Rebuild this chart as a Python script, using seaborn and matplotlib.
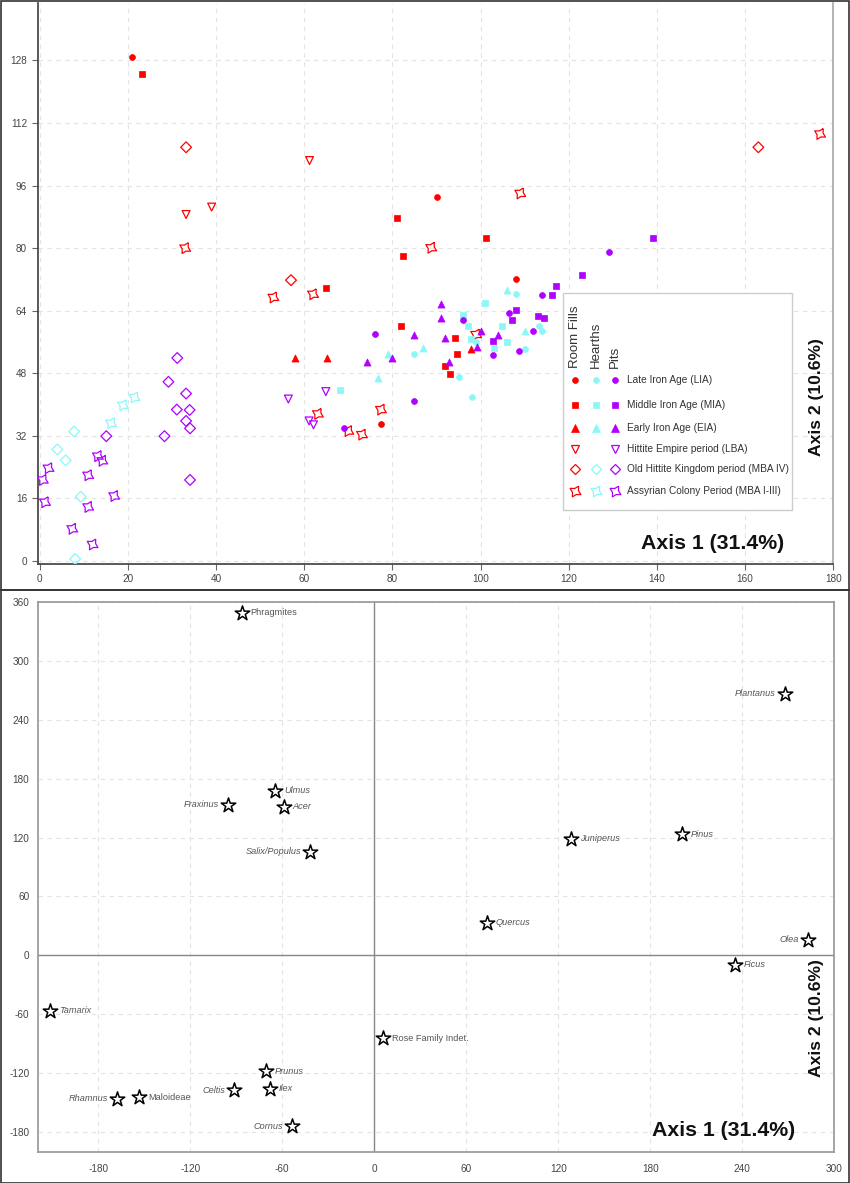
import numpy as np
import pandas as pd
import matplotlib
matplotlib.use("Agg")
import matplotlib.pyplot as plt
import seaborn as sns
from matplotlib.patches import Rectangle
from matplotlib.lines import Line2D

# ---------------- data : top panel (samples) ----------------
# Room Fills (red)
rf_lia_x = [21.0, 90.1, 108.1, 77.4]
rf_lia_y = [128.8, 93.1, 72.0, 35.0]
rf_mia_x = [23.1, 81.0, 82.3, 65.0, 101.2, 81.9, 94.1, 94.7, 91.9, 93.0]
rf_mia_y = [124.6, 87.7, 78.0, 69.8, 82.6, 60.0, 57.0, 53.0, 49.9, 47.9]
rf_eia_x = [57.8, 65.1, 97.8]
rf_eia_y = [51.9, 51.9, 54.1]
rf_lba_x = [61.2, 33.2, 39.0]
rf_lba_y = [102.4, 88.6, 90.5]
rf_mba4_x = [33.2, 57.0, 163.0]
rf_mba4_y = [105.8, 71.8, 105.8]
rf_mba13_x = [33.0, 53.0, 62.0, 88.8, 109.0, 177.0, 99.0, 77.4, 63.1, 70.0, 73.1]
rf_mba13_y = [80.0, 67.4, 68.2, 80.1, 94.0, 109.2, 57.9, 38.7, 37.6, 33.2, 32.3]
# Hearths (cyan)
he_lia_x = [108.0, 85.0, 95.0, 98.1, 99.0, 110.1, 113.2, 114.0]
he_lia_y = [68.2, 53.0, 47.0, 41.8, 56.1, 54.2, 60.0, 58.8]
he_mia_x = [68.1, 96.1, 97.2, 97.8, 101.1, 104.9, 103.1, 106.1]
he_mia_y = [43.8, 63.0, 60.0, 56.7, 66.0, 60.0, 54.5, 56.1]
he_eia_x = [76.7, 78.9, 87.0, 105.9, 110.0]
he_eia_y = [46.8, 52.9, 54.5, 69.2, 58.8]
he_mba4_x = [7.8, 4.0, 5.9, 9.3, 8.05]
he_mba4_y = [33.1, 28.5, 25.7, 16.4, 0.5]
he_mba13_x = [21.5, 18.9, 16.2]
he_mba13_y = [41.8, 39.8, 35.2]
# Pits (purple)
pi_lia_x = [129.1, 113.9, 76.1, 85.0, 96.0, 102.9, 106.5, 108.8, 111.8, 69.0]
pi_lia_y = [78.9, 68.0, 58.1, 41.0, 61.5, 52.6, 63.3, 53.8, 58.8, 34.0]
pi_mia_x = [139.2, 123.1, 117.0, 116.1, 108.0, 113.1, 114.4, 107.1, 102.9]
pi_mia_y = [82.7, 73.1, 70.2, 68.0, 64.1, 62.6, 62.1, 61.6, 56.2]
pi_eia_x = [91.1, 91.1, 85.0, 91.9, 74.2, 80.0, 92.9, 99.1, 100.1, 103.9]
pi_eia_y = [65.8, 62.2, 57.8, 57.0, 50.9, 52.0, 50.9, 54.7, 58.8, 57.9]
pi_lba_x = [56.4, 64.9, 61.1, 62.1]
pi_lba_y = [41.4, 43.3, 35.8, 34.8]
pi_mba4_x = [31.2, 29.2, 33.2, 31.1, 34.0, 33.2, 34.1, 28.3, 15.1, 34.1]
pi_mba4_y = [51.9, 45.8, 42.8, 38.7, 38.6, 35.8, 33.9, 31.9, 31.9, 20.7]
pi_mba13_x = [2.0, 0.7, 1.2, 13.2, 14.2, 11.0, 16.9, 11.0, 7.4, 12.0]
pi_mba13_y = [23.7, 20.7, 15.0, 26.8, 25.6, 21.9, 16.6, 13.8, 8.2, 4.2]

contexts = ["Room Fills", "Hearths", "Pits"]
periods = ["Late Iron Age (LIA)", "Middle Iron Age (MIA)", "Early Iron Age (EIA)",
           "Hittite Empire period (LBA)", "Old Hittite Kingdom period (MBA IV)",
           "Assyrian Colony Period (MBA I-III)"]
period_keys = ["lia", "mia", "eia", "lba", "mba4", "mba13"]
axis1_label = "Axis 1 (31.4%)"
axis2_label = "Axis 2 (10.6%)"

# ---------------- data : bottom panel (taxa) ----------------
taxa = ["Phragmites", "Ulmus", "Fraxinus", "Acer", "Salix/Populus", "Tamarix",
        "Rose Family Indet.", "Prunus", "Ilex", "Celtis", "Rhamnus", "Maloideae",
        "Cornus", "Plantanus", "Juniperus", "Pinus", "Quercus", "Olea", "Ficus"]
taxa_x = [-86.5, -64.6, -95.2, -59.1, -41.7, -211.5, 5.5, -70.6, -68.2, -91.3,
          -167.8, -153.4, -53.5, 267.8, 128.3, 200.8, 73.3, 283.0, 235.2]
taxa_y = [348.8, 167.8, 153.5, 151.2, 105.3, -56.5, -84.7, -118.3, -136.0, -137.7,
          -146.2, -144.9, -174.4, 266.4, 118.6, 123.2, 32.9, 15.9, -9.6]
taxa_italic = [False, True, True, True, True, True, False, True, True, True,
               True, False, True, True, True, True, True, True, True]
taxa_side = ["r", "r", "l", "r", "l", "r", "r", "r", "r", "l",
             "l", "r", "l", "l", "r", "r", "r", "l", "r"]

# ---------------- style ----------------
BASE = "Liberation Sans"
sns.set_theme(style="white")
plt.rcParams["font.family"] = [BASE, "DejaVu Sans"]
plt.rcParams["axes.unicode_minus"] = False

RED = "#FF0000"
CYAN = "#8CF7F7"
PURPLE = "#B000FF"
ctx_colors = {"Room Fills": RED, "Hearths": CYAN, "Pits": PURPLE}

# 4-point concave star (slightly rotated)
_ang_o = np.deg2rad(np.array([60, 150, 240, 330]))
_ang_i = _ang_o + np.deg2rad(45)
star4 = []
for ao, ai in zip(_ang_o, _ang_i):
    star4.append((np.cos(ao), np.sin(ao)))
    star4.append((0.5 * np.cos(ai), 0.5 * np.sin(ai)))
star4.append(star4[0])

markers = {"lia": ("o", True, 18), "mia": ("s", True, 17), "eia": ("^", True, 26),
           "lba": ("v", False, 32), "mba4": ("D", False, 30), "mba13": (star4, False, 60)}

W, H = 850, 1183
fig = plt.figure(figsize=(W / 100, H / 100), dpi=100)

def fax(left, top, right, bottom):
    return fig.add_axes([left / W, 1 - bottom / H, (right - left) / W, (bottom - top) / H])

GRID = dict(color="#e3e3e3", linestyle=(0, (4, 4)), linewidth=0.8)

# ======== top panel ========
ax1 = fax(37.5, 3, 833.3, 564)
data = {
    "Room Fills": dict(lia=(rf_lia_x, rf_lia_y), mia=(rf_mia_x, rf_mia_y), eia=(rf_eia_x, rf_eia_y),
                       lba=(rf_lba_x, rf_lba_y), mba4=(rf_mba4_x, rf_mba4_y), mba13=(rf_mba13_x, rf_mba13_y)),
    "Hearths": dict(lia=(he_lia_x, he_lia_y), mia=(he_mia_x, he_mia_y), eia=(he_eia_x, he_eia_y),
                    mba4=(he_mba4_x, he_mba4_y), mba13=(he_mba13_x, he_mba13_y)),
    "Pits": dict(lia=(pi_lia_x, pi_lia_y), mia=(pi_mia_x, pi_mia_y), eia=(pi_eia_x, pi_eia_y),
                 lba=(pi_lba_x, pi_lba_y), mba4=(pi_mba4_x, pi_mba4_y), mba13=(pi_mba13_x, pi_mba13_y)),
}
for ctx in contexts:
    c = ctx_colors[ctx]
    for key in period_keys:
        if key not in data[ctx]:
            continue
        xs, ys = data[ctx][key]
        m, filled, s = markers[key]
        if filled:
            sns.scatterplot(x=xs, y=ys, ax=ax1, marker=m, s=s, color=c, edgecolor=c,
                            linewidth=0.5, zorder=3)
        else:
            sns.scatterplot(x=xs, y=ys, ax=ax1, marker=m, s=s, color=c, facecolor="none",
                            edgecolor=c, linewidth=0.9, zorder=3)

ax1.set_xlim(-0.5, 180.0)
ax1.set_ylim(-0.8, 142.7)
ax1.set_xticks(np.arange(0, 181, 20))
ax1.set_yticks(np.arange(0, 129, 16))
ax1.grid(True, **GRID)
ax1.set_axisbelow(True)
ax1.spines["top"].set_visible(False)
ax1.spines["left"].set_color("#444444")
ax1.spines["bottom"].set_color("#444444")
ax1.spines["right"].set_color("#aaaaaa")
ax1.tick_params(axis="both", labelsize=7.2, colors="#666666", labelcolor="#444444",
                length=4, width=0.8, direction="out", bottom=True, left=True)
ax1.set_xlabel("")
ax1.set_ylabel("")

fig.text(713 / W, 1 - 543 / H, axis1_label, ha="center", va="center",
         fontsize=15.3, fontweight="bold", color="#111111")
fig.text(816 / W, 1 - 397 / H, axis2_label, ha="center", va="center",
         rotation=90, fontsize=12.6, fontweight="bold", color="#111111")

# legend (manual)
def fxy(px, py):
    return px / W, 1 - py / H

lx0, ly0 = fxy(563, 510)
lx1, ly1 = fxy(792, 293)
fig.add_artist(Rectangle((lx0, ly0), lx1 - lx0, ly1 - ly0, transform=fig.transFigure,
                         facecolor="white", edgecolor="#cccccc", linewidth=1.0, zorder=5))
col_x = [575, 596, 615]
for cx, ctx in zip(col_x, contexts):
    fig.text(cx / W, 1 - 368 / H, ctx, rotation=90, ha="center", va="bottom",
             fontsize=9.5, color="#333333", zorder=6)
row_y = [380, 405, 428, 449, 469, 491]
for ry, key, lab in zip(row_y, period_keys, periods):
    m, filled, s = markers[key]
    for cx, ctx in zip(col_x, contexts):
        if key not in data[ctx]:
            continue
        c = ctx_colors[ctx]
        x, y = fxy(cx, ry)
        if filled:
            fig.add_artist(Line2D([x], [y], transform=fig.transFigure, marker=m, markersize=np.sqrt(s),
                                  color=c, markeredgecolor=c, markeredgewidth=0.5, linestyle="none", zorder=6))
        else:
            fig.add_artist(Line2D([x], [y], transform=fig.transFigure, marker=m, markersize=np.sqrt(s),
                                  markerfacecolor="none", markeredgecolor=c, markeredgewidth=0.9,
                                  linestyle="none", zorder=6))
    fig.text(627 / W, 1 - ry / H, lab, ha="left", va="center", fontsize=7.3,
             color="#333333", zorder=6)

# ======== bottom panel ========
ax2 = fax(37.7, 602, 834.3, 1152)
sns.scatterplot(x=taxa_x, y=taxa_y, ax=ax2, marker="*", s=120, color="black",
                facecolor="white", edgecolor="black", linewidth=1.1, zorder=4)
for name, x, y, it, side in zip(taxa, taxa_x, taxa_y, taxa_italic, taxa_side):
    dx = 6.5 if side == "r" else -6.5
    ax2.annotate(name, (x, y), xytext=(dx, 0), textcoords="offset points",
                 ha="left" if side == "r" else "right", va="center", fontsize=6.6,
                 style="italic" if it else "normal", color="#555555", zorder=5)
ax2.axhline(0, color="#888888", linewidth=1.0, zorder=2)
ax2.axvline(0, color="#888888", linewidth=1.0, zorder=2)
ax2.set_xlim(-219.5, 300)
ax2.set_ylim(-200.5, 360)
ax2.set_xticks(np.arange(-180, 301, 60))
ax2.set_yticks(np.arange(-180, 361, 60))
ax2.grid(True, **GRID)
ax2.set_axisbelow(True)
for side in ["left", "bottom", "top", "right"]:
    ax2.spines[side].set_color("#999999")
ax2.tick_params(axis="both", labelsize=7.2, colors="#999999", labelcolor="#444444", length=0)
ax2.tick_params(axis="x", pad=9)
ax2.tick_params(axis="y", pad=6)
fig.text(724 / W, 1 - 1131 / H, axis1_label, ha="center", va="center",
         fontsize=15.3, fontweight="bold", color="#111111")
fig.text(816 / W, 1 - 1018 / H, axis2_label, ha="center", va="center",
         rotation=90, fontsize=12.6, fontweight="bold", color="#111111")

# panel frames
fig.add_artist(Rectangle((0.5 / W, 1 - 589.5 / H), (W - 1.5) / W, 589 / H, transform=fig.transFigure,
                         facecolor="none", edgecolor="#333333", linewidth=1.2))
fig.add_artist(Rectangle((0.5 / W, 0.5 / H), (W - 1.5) / W, (H - 591) / H, transform=fig.transFigure,
                         facecolor="none", edgecolor="#333333", linewidth=1.2))

fig.savefig("out.png", dpi=100)
